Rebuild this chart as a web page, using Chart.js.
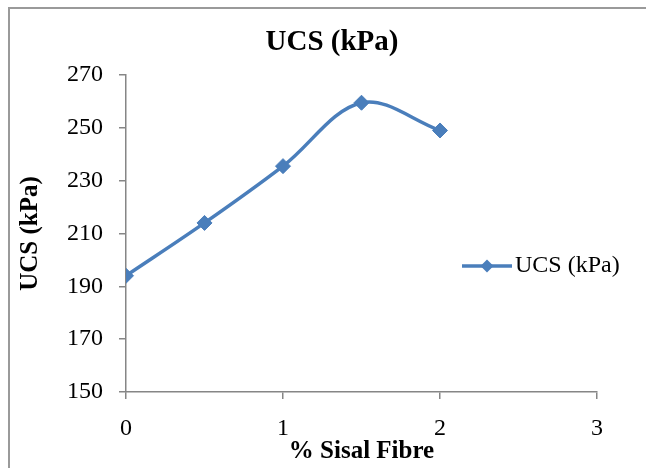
<!DOCTYPE html>
<html>
<head>
<meta charset="utf-8">
<title>UCS (kPa)</title>
<script src="https://cdn.jsdelivr.net/npm/chart.js@4.4.1/dist/chart.umd.min.js"></script>
<style>
  html, body { margin: 0; padding: 0; background: #fff; }
  #wrap { position: relative; width: 646px; height: 468px; }
</style>
</head>
<body>
<div id="wrap"><canvas id="canvas"></canvas></div>
<script>
// UCS test results against sisal fibre content
const fibre = [0, 0.5, 1, 1.5, 2];
const ucs = [194, 214, 235.5, 259.5, 249];
const xTicks = [0, 1, 2, 3];
const yTicks = [150, 170, 190, 210, 230, 250, 270];

const seriesName = 'UCS (kPa)';
const chartTitle = 'UCS (kPa)';
const xTitle = '% Sisal Fibre';
const yTitle = 'UCS (kPa)';

const blue = '#4a7ebb';
const axisGrey = '#868686';
const serif = "'Liberation Serif', 'Times New Roman', serif";

let points = [];
for (let i = 0; i < fibre.length; i++) {
  points.push({ x: fibre[i], y: ucs[i] });
}

// excel-ish frame, heading and the little legend on the right
const decorations = {
  id: 'decorations',
  beforeDraw(chart) {
    const ctx = chart.ctx;
    ctx.save();
    ctx.fillStyle = '#fff';
    ctx.fillRect(0, 0, chart.width, chart.height);
    ctx.strokeStyle = '#9a9a9a';
    ctx.lineWidth = 2;
    ctx.strokeRect(9, 8, chart.width + 20, chart.height + 20);
    ctx.restore();
  },
  afterDraw(chart) {
    const ctx = chart.ctx;
    const ds = chart.data.datasets[0];
    ctx.save();
    ctx.fillStyle = '#000';
    ctx.textAlign = 'center';
    ctx.textBaseline = 'middle';
    ctx.font = 'bold 29px ' + serif;
    ctx.fillText(chartTitle, 332, 43);

    // legend entry
    const ly = 266;
    ctx.strokeStyle = ds.borderColor;
    ctx.lineWidth = ds.borderWidth;
    ctx.beginPath();
    ctx.moveTo(462, ly);
    ctx.lineTo(512, ly);
    ctx.stroke();
    ctx.fillStyle = ds.pointBackgroundColor;
    ctx.beginPath();
    ctx.moveTo(487, ly - 6.5);
    ctx.lineTo(493.5, ly);
    ctx.lineTo(487, ly + 6.5);
    ctx.lineTo(480.5, ly);
    ctx.closePath();
    ctx.fill();
    ctx.fillStyle = '#000';
    ctx.textAlign = 'left';
    ctx.font = '24px ' + serif;
    ctx.fillText(ds.label, 515, ly);
    ctx.restore();
  }
};

// keep the plot box where it should be, no extra room for label overhang
function fixBox(size) {
  return function (scale) {
    if (scale.isHorizontal()) scale.height = size;
    else scale.width = size;
    scale.paddingTop = 0;
    scale.paddingBottom = 0;
    scale.paddingLeft = 0;
    scale.paddingRight = 0;
  };
}

let ctx = document.getElementById('canvas').getContext('2d');
new Chart(ctx, {
  type: 'line',
  data: {
    datasets: [{
      label: seriesName,
      data: points,
      borderColor: blue,
      backgroundColor: blue,
      pointBackgroundColor: blue,
      pointBorderColor: blue,
      borderWidth: 3.5,
      pointStyle: 'rectRot',
      pointRadius: 7.5,
      pointBorderWidth: 1,
      tension: 0.35,
      fill: false
    }]
  },
  options: {
    responsive: true,
    maintainAspectRatio: false,
    animation: false,
    events: [],
    layout: { padding: { left: 14, top: 75, right: 49, bottom: 0 } },
    plugins: {
      legend: { display: false },
      title: { display: false },
      tooltip: { enabled: false }
    },
    scales: {
      x: {
        type: 'linear',
        min: xTicks[0],
        max: xTicks[xTicks.length - 1],
        afterFit: fixBox(76),
        afterBuildTicks: (scale) => { scale.ticks = xTicks.map(v => ({ value: v })); },
        border: { display: true, color: axisGrey, width: 1.5 },
        grid: { drawOnChartArea: false, drawTicks: true, tickLength: 7, color: axisGrey, lineWidth: 1.5 },
        ticks: { color: '#000', padding: 15, font: { family: serif, size: 24 } },
        title: {
          display: true,
          text: xTitle,
          color: '#000',
          padding: { top: 1, bottom: 1 },
          font: { family: serif, size: 25, weight: 'bold' }
        }
      },
      y: {
        min: yTicks[0],
        max: yTicks[yTicks.length - 1],
        afterFit: fixBox(112),
        afterBuildTicks: (scale) => { scale.ticks = yTicks.map(v => ({ value: v })); },
        border: { display: true, color: axisGrey, width: 1.5 },
        grid: { drawOnChartArea: false, drawTicks: true, tickLength: 7, color: axisGrey, lineWidth: 1.5 },
        ticks: { color: '#000', padding: 16, font: { family: serif, size: 24 } },
        title: {
          display: true,
          text: yTitle,
          color: '#000',
          padding: { top: 2, bottom: 2 },
          font: { family: serif, size: 25, weight: 'bold' }
        }
      }
    }
  },
  plugins: [decorations]
});
</script>
</body>
</html>
